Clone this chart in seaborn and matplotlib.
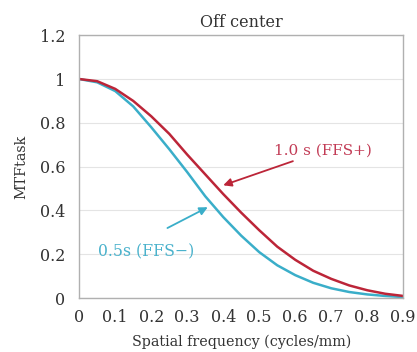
import pandas as pd
import matplotlib
matplotlib.use("Agg")
import matplotlib.pyplot as plt
import seaborn as sns

# spatial frequency (cycles/mm)
freq = [0.0, 0.05, 0.1, 0.15, 0.2, 0.25, 0.3, 0.35, 0.4, 0.45,
        0.5, 0.55, 0.6, 0.65, 0.7, 0.75, 0.8, 0.85, 0.9]

# MTFtask, 1.0 s (FFS+)
mtf_ffs_plus = [1.0, 0.99, 0.955, 0.90, 0.83, 0.75, 0.655, 0.565, 0.475, 0.39,
                0.31, 0.235, 0.175, 0.125, 0.088, 0.058, 0.036, 0.02, 0.01]

# MTFtask, 0.5 s (FFS-)
mtf_ffs_minus = [1.0, 0.985, 0.945, 0.875, 0.78, 0.68, 0.575, 0.465, 0.37, 0.285,
                 0.21, 0.15, 0.105, 0.07, 0.045, 0.028, 0.017, 0.01, 0.005]

x_ticks = [0, 0.1, 0.2, 0.3, 0.4, 0.5, 0.6, 0.7, 0.8, 0.9]
x_tick_labels = ["0", "0.1", "0.2", "0.3", "0.4", "0.5", "0.6", "0.7", "0.8", "0.9"]
y_ticks = [0, 0.2, 0.4, 0.6, 0.8, 1.0, 1.2]
y_tick_labels = ["0", "0.2", "0.4", "0.6", "0.8", "1", "1.2"]

red = "#BC2538"
cyan = "#3AAEC9"

df = pd.DataFrame({
    "freq": freq * 2,
    "mtf": mtf_ffs_plus + mtf_ffs_minus,
    "serie": ["1.0 s (FFS+)"] * len(freq) + ["0.5s (FFS\u2212)"] * len(freq),
})

sns.set_style("white")
plt.rcParams["font.family"] = ["DejaVu Serif"]

fig = plt.figure(figsize=(4.17, 3.52), dpi=100)
ax = fig.add_axes([0.19, 0.153, 0.777, 0.747])

# cyan first so the red line sits on top
sns.lineplot(data=df, x="freq", y="mtf", hue="serie",
             hue_order=["0.5s (FFS\u2212)", "1.0 s (FFS+)"],
             palette=[cyan, red], linewidth=1.8, legend=False, ax=ax)

ax.set_xlim(0, 0.9)
ax.set_ylim(0, 1.2)
ax.set_xticks(x_ticks)
ax.set_xticklabels(x_tick_labels)
ax.set_yticks(y_ticks)
ax.set_yticklabels(y_tick_labels)
ax.tick_params(axis="both", length=0, labelsize=11.5, colors="#333333")
ax.tick_params(axis="x", pad=8)
ax.tick_params(axis="y", pad=10)

ax.yaxis.grid(True, color="#e4e4e4", linewidth=0.8)
ax.set_axisbelow(True)
for s in ax.spines.values():
    s.set_color("#b0b0b0")
    s.set_linewidth(1.0)

ax.set_title("Off center", fontsize=11.5, color="#333333", pad=6)
ax.set_xlabel("Spatial frequency (cycles/mm)", fontsize=10.3, color="#333333", labelpad=6)
ax.set_ylabel("MTFtask", fontsize=10.3, color="#333333", labelpad=8)

# annotations
ax.annotate("1.0 s (FFS+)", xy=(0.40, 0.515), xytext=(0.54, 0.672),
            color="#C23B55", fontsize=11, va="center", ha="left",
            arrowprops=dict(arrowstyle="-|>", color=red, lw=1.3,
                            mutation_scale=12, shrinkA=0, shrinkB=0))
ax.annotate("", xy=(0.357, 0.415), xytext=(0.245, 0.32),
            arrowprops=dict(arrowstyle="-|>", color=cyan, lw=1.3,
                            mutation_scale=12, shrinkA=0, shrinkB=0))
ax.text(0.053, 0.212, "0.5s (FFS\u2212)", color="#4AB2CC", fontsize=11.3,
        va="center", ha="left")

plt.savefig("out.png", dpi=100)
